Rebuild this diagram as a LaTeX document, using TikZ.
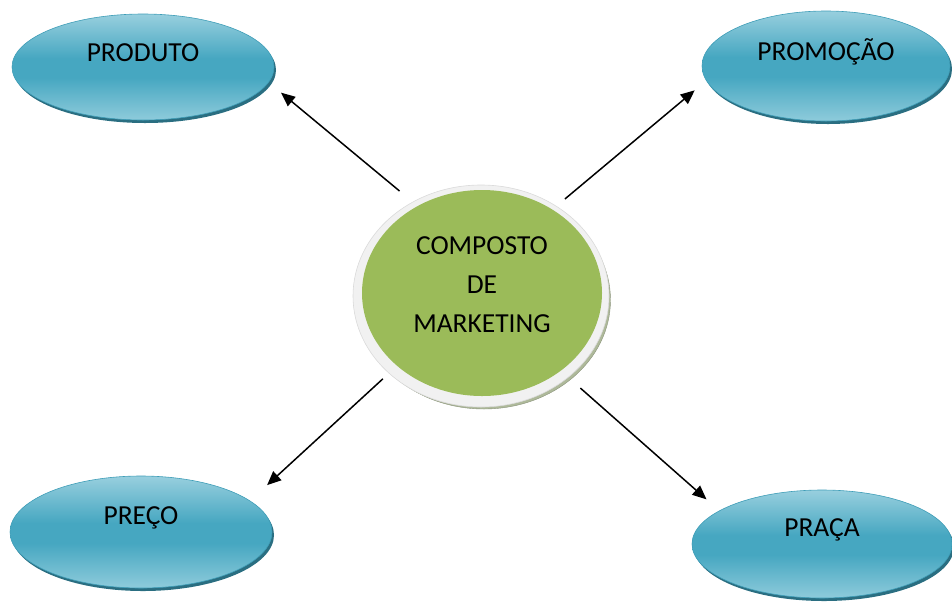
\documentclass[tikz,border=0pt]{standalone}
\usepackage{fontspec}
\setmainfont{Carlito}
\usetikzlibrary{shapes.geometric,arrows.meta}
\definecolor{aquatop}{HTML}{98CFDE}
\definecolor{aquamid}{HTML}{46A7C1}
\definecolor{aquabot}{HTML}{8ECBDB}
\definecolor{aquaedge}{HTML}{3E9DB7}
\definecolor{aquashadow}{HTML}{2A6E81}
\definecolor{olive}{HTML}{9BBB59}
\definecolor{ringgray}{HTML}{F1F1F1}
\definecolor{ringline}{HTML}{DADADA}
\definecolor{rimgreen}{HTML}{AEB99A}
% bevelled aqua fill: light at top and bottom, deeper in the middle
\pgfdeclareverticalshading{aquabevel}{100bp}{%
  color(0bp)=(aquabot); color(25bp)=(aquabot); color(45bp)=(aquamid);
  color(54bp)=(aquamid); color(75bp)=(aquatop); color(100bp)=(aquatop)}
\begin{document}
\begin{tikzpicture}[x=1pt,y=-1pt,
  bubble/.style={ellipse, inner sep=0pt, minimum width=262pt, minimum height=106pt,
    draw=aquaedge, line width=0.6pt, shading=aquabevel, shade,
    preaction={fill=aquashadow, transform canvas={shift={(2pt,-3pt)}}}},
  caption/.style={font=\fontsize{27.5}{32}\selectfont, text=black},
  rimstyle/.style={ellipse, inner sep=0pt, minimum width=253pt, minimum height=218pt,
    fill=rimgreen, draw=rimgreen!80!black, line width=0.4pt},
  ringstyle/.style={ellipse, inner sep=0pt, minimum width=256pt, minimum height=222pt,
    fill=ringgray, draw=ringline, line width=0.6pt},
  corestyle/.style={ellipse, inner sep=0pt, minimum width=240pt, minimum height=206pt, fill=olive},
  arr/.style={-{Triangle[length=14pt,width=12pt]}, line width=1.5pt, black}]
\useasboundingbox (0,0) rectangle (952,606);

% central disc
\node[rimstyle] (comprim) at (484,300) {};
\node[ringstyle] (comp) at (481,296) {};
\node[corestyle, label={[caption, align=center, yshift=8pt]center:{COMPOSTO\\[7pt]DE\\[7pt]MARKETING}}] (compcore) at (482,293) {};

% the four P's
\node[bubble, label={[caption, yshift=14pt]center:PRODUTO}] (prod) at (143,67) {};
\node[bubble, minimum width=248pt, minimum height=110pt, label={[caption, yshift=14pt]center:PROMOÇÃO}] (prom) at (826,66) {};
\node[bubble, minimum height=112pt, label={[caption, yshift=14pt]center:PREÇO}] (prec) at (141,532) {};
\node[bubble, minimum width=260pt, minimum height=108pt, label={[caption, yshift=14pt]center:PRAÇA}] (praca) at (822,544) {};

% connectors
\draw[arr, shorten <=17pt, shorten >=16pt] (comp.126) -- (prod.-7);
\draw[arr, shorten <=11pt, shorten >=15pt] (comp.50) -- (prom.187);
\draw[arr, shorten <=8pt, shorten >=23pt] (comp.220) -- (prec.16);
\draw[arr, shorten <=16pt, shorten >=17pt] (comp.-43) -- (praca.162);
\end{tikzpicture}
\end{document}
